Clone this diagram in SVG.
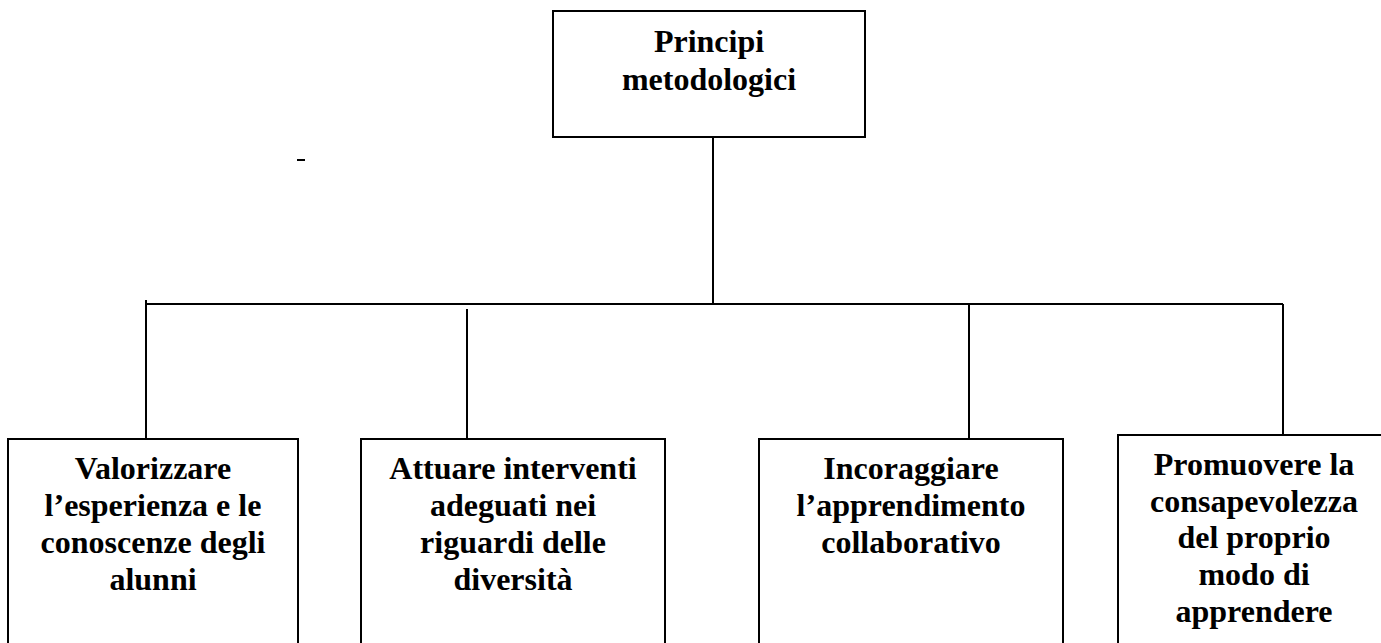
<svg xmlns="http://www.w3.org/2000/svg" width="1381" height="643" viewBox="0 0 1381 643">
<style>
.box{fill:#fff;stroke:#000;stroke-width:2}
.ln{stroke:#000;stroke-width:2;fill:none}
text{font-family:"Liberation Serif","Times New Roman",serif;font-weight:bold;font-size:32px;text-anchor:middle;fill:#000}
</style>
<rect width="1381" height="643" fill="#fff"/>
<g id="connectors">
<line class="ln" x1="713" y1="137" x2="713" y2="304"/>
<line class="ln" x1="146" y1="304" x2="1283" y2="304"/>
<line class="ln" x1="146" y1="300" x2="146" y2="439"/>
<line class="ln" x1="467" y1="309" x2="467" y2="439"/>
<line class="ln" x1="969" y1="304" x2="969" y2="439"/>
<line class="ln" x1="1283" y1="304" x2="1283" y2="435"/>
</g>
<line x1="297" y1="160" x2="305" y2="160" stroke="#000" stroke-width="2"/>
<g id="root">
<rect class="box" x="553" y="11" width="312" height="126"/>
<text x="709" y="52">Principi</text>
<text x="709" y="90">metodologici</text>
</g>
<g id="n1">
<rect class="box" x="8" y="439" width="290" height="220"/>
<text x="153" y="479">Valorizzare</text>
<text x="153" y="516">l’esperienza e le</text>
<text x="153" y="553">conoscenze degli</text>
<text x="153" y="590">alunni</text>
</g>
<g id="n2">
<rect class="box" x="361" y="439" width="304" height="220"/>
<text x="513" y="479">Attuare interventi</text>
<text x="513" y="516">adeguati nei</text>
<text x="513" y="553">riguardi delle</text>
<text x="513" y="590">diversità</text>
</g>
<g id="n3">
<rect class="box" x="759" y="439" width="304" height="220"/>
<text x="911" y="479">Incoraggiare</text>
<text x="911" y="516">l’apprendimento</text>
<text x="911" y="553">collaborativo</text>
</g>
<g id="n4">
<rect class="box" x="1118" y="435" width="272" height="224"/>
<text x="1254" y="475">Promuovere la</text>
<text x="1254" y="512">consapevolezza</text>
<text x="1254" y="548">del proprio</text>
<text x="1254" y="585">modo di</text>
<text x="1254" y="622">apprendere</text>
</g>
</svg>
